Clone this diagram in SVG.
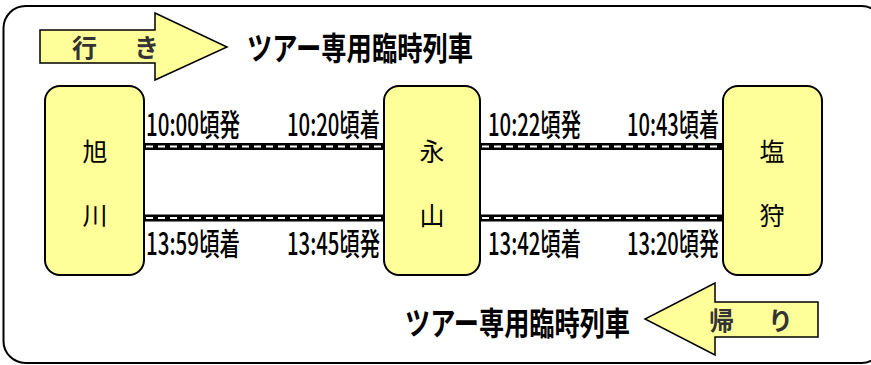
<svg xmlns="http://www.w3.org/2000/svg" width="871" height="365" viewBox="0 0 871 365">
<style>
.frame{fill:#fff;stroke:#000;stroke-width:2}
.box{fill:#FFFF99;stroke:#000;stroke-width:2}
.arrow{fill:#FFFF99;stroke:#000;stroke-width:1.5}
.st{font-family:"Noto Sans CJK JP","Noto Sans",sans-serif;font-size:25px;fill:#000;text-anchor:middle}
.tm{font-family:"Noto Sans CJK JP","Noto Sans",sans-serif;font-size:21px;font-weight:500;fill:#000}
.ttl{font-family:"Noto Sans CJK JP",sans-serif;font-size:32px;font-weight:bold;fill:#000}
.ar{font-family:"Noto Sans CJK JP",sans-serif;font-size:25px;font-weight:bold;fill:#333}
.rail{stroke:#000;stroke-width:7;fill:none}
.dash{stroke:#fff;stroke-width:2;stroke-dasharray:7 5;fill:none}
</style>
<rect class="frame" x="3.5" y="6" width="880" height="357" rx="22"/>
<g id="arrow-go">
<polygon class="arrow" points="40,30 155,30 155,13 227,47 155,80 155,63 40,63"/>
<text class="ar" x="72" y="57">行</text>
<text class="ar" x="134" y="57">き</text>
</g>
<text class="ttl" x="247" y="60" textLength="226" lengthAdjust="spacingAndGlyphs">ツアー専用臨時列車</text>
<g id="arrow-back">
<polygon class="arrow" points="818,302 715,302 715,283 645,319 715,355 715,337 818,337"/>
<text class="ar" x="709" y="330">帰</text>
<text class="ar" x="768" y="330">り</text>
</g>
<text class="ttl" x="405" y="335" textLength="225" lengthAdjust="spacingAndGlyphs">ツアー専用臨時列車</text>
<g id="connectors">
<line class="rail" x1="144" y1="146.5" x2="384" y2="146.5"/>
<line class="dash" x1="146" y1="146.5" x2="384" y2="146.5"/>
<line class="rail" x1="144" y1="218" x2="384" y2="218"/>
<line class="dash" x1="146" y1="218" x2="384" y2="218"/>
<line class="rail" x1="480" y1="146.5" x2="723" y2="146.5"/>
<line class="dash" x1="482" y1="146.5" x2="723" y2="146.5"/>
<line class="rail" x1="480" y1="218" x2="723" y2="218"/>
<line class="dash" x1="482" y1="218" x2="723" y2="218"/>
</g>
<g id="asahikawa">
<rect class="box" x="45" y="86" width="99" height="189" rx="15"/>
<text class="st" x="95" y="161">旭</text>
<text class="st" x="95" y="225">川</text>
</g>
<g id="nagayama">
<rect class="box" x="384" y="86" width="96" height="189" rx="15"/>
<text class="st" x="432" y="161">永</text>
<text class="st" x="432" y="225">山</text>
</g>
<g id="shiogari">
<rect class="box" x="723" y="86" width="99" height="189" rx="15"/>
<text class="st" x="772" y="161">塩</text>
<text class="st" x="772" y="225">狩</text>
</g>
<g id="times">
<text class="tm" transform="translate(146,136) scale(1,1.476)" textLength="94" lengthAdjust="spacingAndGlyphs">10:00頃発</text>
<text class="tm" transform="translate(287,136) scale(1,1.476)" textLength="93" lengthAdjust="spacingAndGlyphs">10:20頃着</text>
<text class="tm" transform="translate(146,255) scale(1,1.476)" textLength="94" lengthAdjust="spacingAndGlyphs">13:59頃着</text>
<text class="tm" transform="translate(287,255) scale(1,1.476)" textLength="93" lengthAdjust="spacingAndGlyphs">13:45頃発</text>
<text class="tm" transform="translate(488,136) scale(1,1.476)" textLength="93" lengthAdjust="spacingAndGlyphs">10:22頃発</text>
<text class="tm" transform="translate(627,136) scale(1,1.476)" textLength="92" lengthAdjust="spacingAndGlyphs">10:43頃着</text>
<text class="tm" transform="translate(488,255) scale(1,1.476)" textLength="93" lengthAdjust="spacingAndGlyphs">13:42頃着</text>
<text class="tm" transform="translate(627,255) scale(1,1.476)" textLength="92" lengthAdjust="spacingAndGlyphs">13:20頃発</text>
</g>
</svg>
